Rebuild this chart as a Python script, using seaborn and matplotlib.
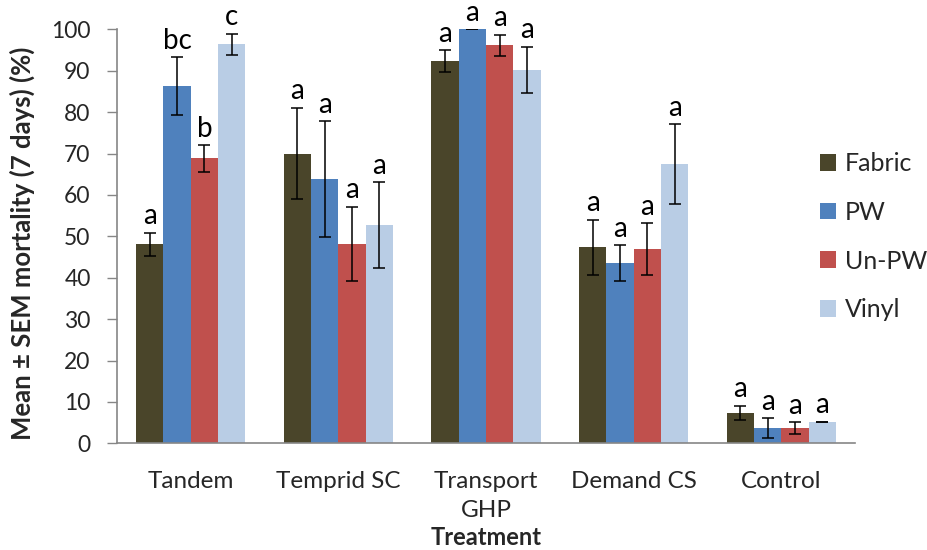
import matplotlib
matplotlib.use("Agg")
import matplotlib.pyplot as plt
import seaborn as sns
import pandas as pd
import numpy as np
from matplotlib.patches import Patch

# ---- data ----
treatments = ["Tandem", "Temprid SC", "Transport\nGHP", "Demand CS", "Control"]
materials = ["Fabric", "PW", "Un-PW", "Vinyl"]

fabric_mean = [48.1, 70.0, 92.4, 47.3, 7.4]
pw_mean = [86.2, 63.8, 100.0, 43.6, 3.7]
unpw_mean = [68.8, 48.1, 96.1, 46.9, 3.7]
vinyl_mean = [96.4, 52.7, 90.2, 67.5, 5.2]

fabric_sem = [2.8, 11.1, 2.6, 6.7, 1.7]
pw_sem = [7.0, 14.0, 0.0, 4.3, 2.4]
unpw_sem = [3.2, 9.0, 2.6, 6.3, 1.4]
vinyl_sem = [2.5, 10.3, 5.6, 9.6, 0.0]

fabric_letters = ["a", "a", "a", "a", "a"]
pw_letters = ["bc", "a", "a", "a", "a"]
unpw_letters = ["b", "a", "a", "a", "a"]
vinyl_letters = ["c", "a", "a", "a", "a"]

colors = ["#4A452A", "#4F81BD", "#C0504D", "#B9CDE5"]
y_ticks = list(range(0, 101, 10))

means = [fabric_mean, pw_mean, unpw_mean, vinyl_mean]
sems = [fabric_sem, pw_sem, unpw_sem, vinyl_sem]
letters = [fabric_letters, pw_letters, unpw_letters, vinyl_letters]

rows = []
for m, mv, sv in zip(materials, means, sems):
    for t, v, s in zip(treatments, mv, sv):
        rows.append({"Treatment": t, "Material": m, "Mean": v, "SEM": s})
df = pd.DataFrame(rows)

# ---- plot ----
sns.set_style("white")
plt.rcParams["font.family"] = ["Lato", "DejaVu Sans"]

fig = plt.figure(figsize=(9.27, 5.5), dpi=100)
ax = fig.add_axes([117 / 927, 1 - 443.3 / 550, (855 - 117) / 927, (443.3 - 29.3) / 550])

sns.barplot(data=df, x="Treatment", y="Mean", hue="Material", order=treatments,
            hue_order=materials, palette=colors, errorbar=None, width=0.74,
            gap=0, linewidth=0, saturation=1, ax=ax, legend=False)

bar_containers = list(ax.containers)
for i, cont in enumerate(bar_containers):
    for j, bar in enumerate(cont):
        x = bar.get_x() + bar.get_width() / 2
        y = bar.get_height()
        s = sems[i][j]
        ax.errorbar(x, y, yerr=s, color="black", capsize=4.5, capthick=1.1,
                    elinewidth=1.1, fmt="none", zorder=5)
        ax.annotate(letters[i][j], (x, y + s), xytext=(0, 2.5), textcoords="offset points",
                    ha="center", va="bottom", fontsize=20, color="black")

ax.set_xlim(-0.5, 4.5)
ax.set_ylim(0, 100)
ax.set_yticks(y_ticks)
ax.set_yticklabels([str(t) for t in y_ticks], fontsize=16.5)
ax.tick_params(axis="y", which="both", left=True, length=7, width=1, color="#868686", pad=12,
               direction="out")
ax.tick_params(axis="x", length=0, pad=20, labelsize=17.5)
for lab in ax.get_xticklabels():
    lab.set_linespacing(1.45)

sns.despine(ax=ax, top=True, right=True)
ax.spines["left"].set_color("#868686")
ax.spines["bottom"].set_color("#868686")
ax.spines["left"].set_linewidth(1.2)
ax.spines["bottom"].set_linewidth(1.2)

ax.set_xlabel("Treatment", fontsize=17, fontweight="bold")
ax.xaxis.set_label_coords(0.5, -0.2)
ax.set_ylabel("Mean \u00b1 SEM mortality (7 days) (%)", fontsize=18.5, fontweight="bold")
ax.yaxis.set_label_coords(-0.111, 0.482)

handles = [Patch(facecolor=c, edgecolor="none", label=m) for c, m in zip(colors, materials)]
fig.legend(handles=handles, loc="center left", bbox_to_anchor=(820 / 927, 1 - 236.7 / 550),
           frameon=False, fontsize=18, handlelength=0.65, handleheight=0.65,
           handletextpad=0.35, labelspacing=1.03, borderpad=0, borderaxespad=0)

fig.savefig("out.png", dpi=100)
